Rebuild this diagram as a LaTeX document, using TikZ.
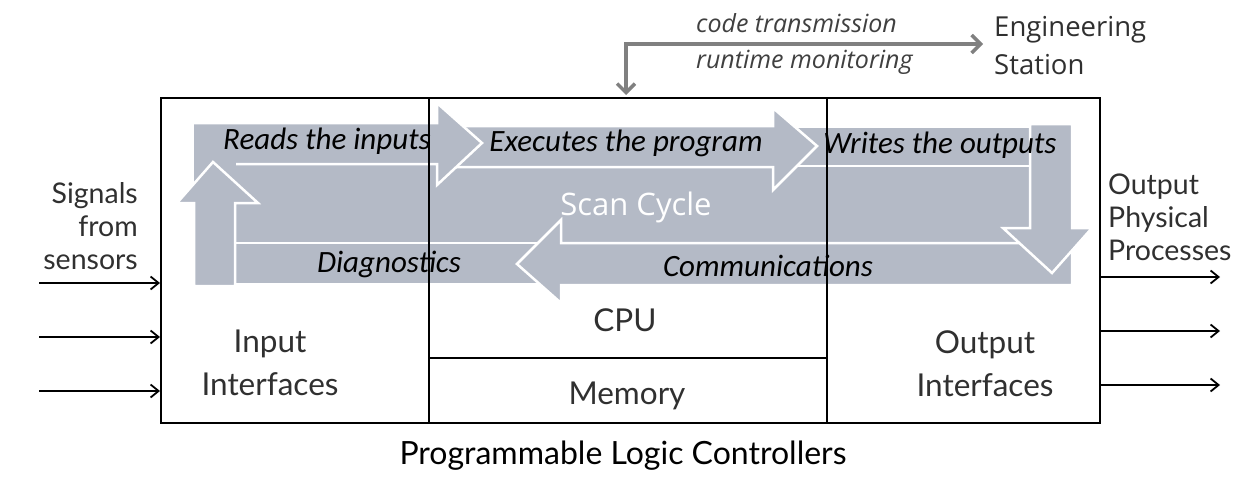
\documentclass[tikz,border=0pt]{standalone}
\usepackage{fontspec}
\setmainfont{Lato}
\newfontfamily\calit{Carlito}
\newfontfamily\osans{Open Sans}
\usetikzlibrary{arrows.meta}
\definecolor{band}{RGB}{180,186,198}
\definecolor{txt}{RGB}{48,48,48}
\definecolor{conn}{RGB}{128,128,128}
\definecolor{toplbl}{RGB}{64,64,64}
\begin{document}
\begin{tikzpicture}[x=1pt,y=-1pt,
  bandfill/.style={fill=band, draw=white, line width=2.5pt, line join=miter},
  bandonly/.style={fill=band},
  bandedge/.style={draw=white, line width=2.5pt, line join=miter},
  boxline/.style={draw=black, line width=2pt},
  lbl/.style={text=txt, inner sep=0pt, font=\fontsize{28.5}{33}\selectfont},
  seclbl/.style={text=txt, inner sep=0pt, font=\fontsize{31.5}{43}\selectfont},
  albl/.style={text=black, inner sep=0pt, font=\calit\itshape\fontsize{31}{34}\selectfont},
  sigarrow/.style={-{Straight Barb[length=8pt,width=13pt]}, line width=1.8pt, draw=black},
  gconn/.style={{Straight Barb[length=9pt,width=18pt]}-{Straight Barb[length=9pt,width=18pt]}, line width=3.5pt, draw=conn}
]
\useasboundingbox (0,0) rectangle (1248,490);

% ---- scan cycle ribbon ----
\fill[bandonly] (194,160) rectangle (1072,250);
% Writes the outputs band
\path[bandfill] (790,127) -- (1040,127) -- (1040,166) -- (790,166) -- cycle;
% Executes the program band
\path[bandfill] (450,126) -- (773,126) -- (773,108) -- (817,146) -- (773,190) -- (773,167) -- (450,167) -- cycle;
% Reads the inputs band
\fill[bandonly] (194,123) -- (437,123) -- (437,103) -- (482,143) -- (437,185) -- (437,164) -- (194,164) -- cycle;
\draw[bandedge] (236,164) -- (437,164) -- (437,185) -- (482,143) -- (437,103) -- (437,123) -- (194,123);
% Diagnostics band
\path[bandfill] (230,243) -- (545,243) -- (545,284) -- (230,284) -- cycle;
% Communications arrow
\path[bandfill] (1072,243) -- (561,243) -- (561,220) -- (517,264) -- (561,303) -- (561,285) -- (1072,285) -- cycle;
% down arrow
\path[bandfill] (1030,124) -- (1072,124) -- (1072,228) -- (1092,228) -- (1052,273) -- (1003,228) -- (1030,228) -- cycle;
% up arrow
\path[bandfill] (194,286) -- (194,203) -- (177,203) -- (213,162) -- (258,203) -- (235,203) -- (235,286) -- cycle;

% ---- PLC box ----
\node[boxline, minimum width=939pt, minimum height=325pt, inner sep=0pt, anchor=north west] (box) at (160,97) {};
\draw[boxline] (429,97) -- (429,422);
\draw[boxline] (827,97) -- (827,422);
\draw[boxline] (429,358) -- (827,358);

% ---- ribbon labels ----
\node[albl] (reads) at (327,141) {Reads the inputs};
\node[albl] (exec) at (626,143) {Executes the program};
\node[albl] (writes) at (940,145) {Writes the outputs};
\node[albl] (diag) at (389,264) {Diagnostics};
\node[albl] (comm) at (768,266) {Communications};
\node[inner sep=0pt, text=white, font=\osans\fontsize{31}{34}\selectfont] (scan) at (636,207) {Scan Cycle};

% ---- section labels ----
\node[seclbl, align=center] (inif) at (270,363) {Input\\Interfaces};
\node[seclbl] (cpu) at (625,320) {CPU};
\node[seclbl] (mem) at (627,396) {Memory};
\node[seclbl, align=center] (outif) at (985,364) {Output\\Interfaces};
\node[seclbl, text=black, font=\fontsize{32}{36}\selectfont] (plc) at (623,456) {Programmable Logic Controllers};

% ---- signals ----
\node[lbl, align=right, anchor=east] (sig) at (138,226) {Signals\\from\\sensors};
\node[lbl, align=left, anchor=west] (outp) at (1108,217) {Output\\Physical\\Processes};

\coordinate (in1) at (39,283);
\coordinate (in2) at (39,337);
\coordinate (in3) at (39,391);
\draw[sigarrow] (in1) -- (in1 -| box.west);
\draw[sigarrow] (in2) -- (in2 -| box.west);
\draw[sigarrow] (in3) -- (in3 -| box.west);

\coordinate (out1) at (1220,277);
\coordinate (out2) at (1220,331);
\coordinate (out3) at (1220,385);
\draw[sigarrow] (out1 -| box.east) -- (out1);
\draw[sigarrow] (out2 -| box.east) -- (out2);
\draw[sigarrow] (out3 -| box.east) -- (out3);

% ---- engineering station ----
\node[lbl, align=left, anchor=west, font=\osans\fontsize{27.5}{38}\selectfont] (eng) at (994,46) {Engineering\\Station};
\node[inner sep=0pt, align=left, anchor=west, text=toplbl, font=\osans\itshape\fontsize{25}{36}\selectfont] (ctx) at (696,44) {code transmission\\runtime monitoring};
\coordinate (corner) at (626,44);
\draw[gconn, shorten <=11pt, shorten >=2pt] (eng.west |- corner) -- (corner) -- (box.north -| corner);
\end{tikzpicture}
\end{document}
